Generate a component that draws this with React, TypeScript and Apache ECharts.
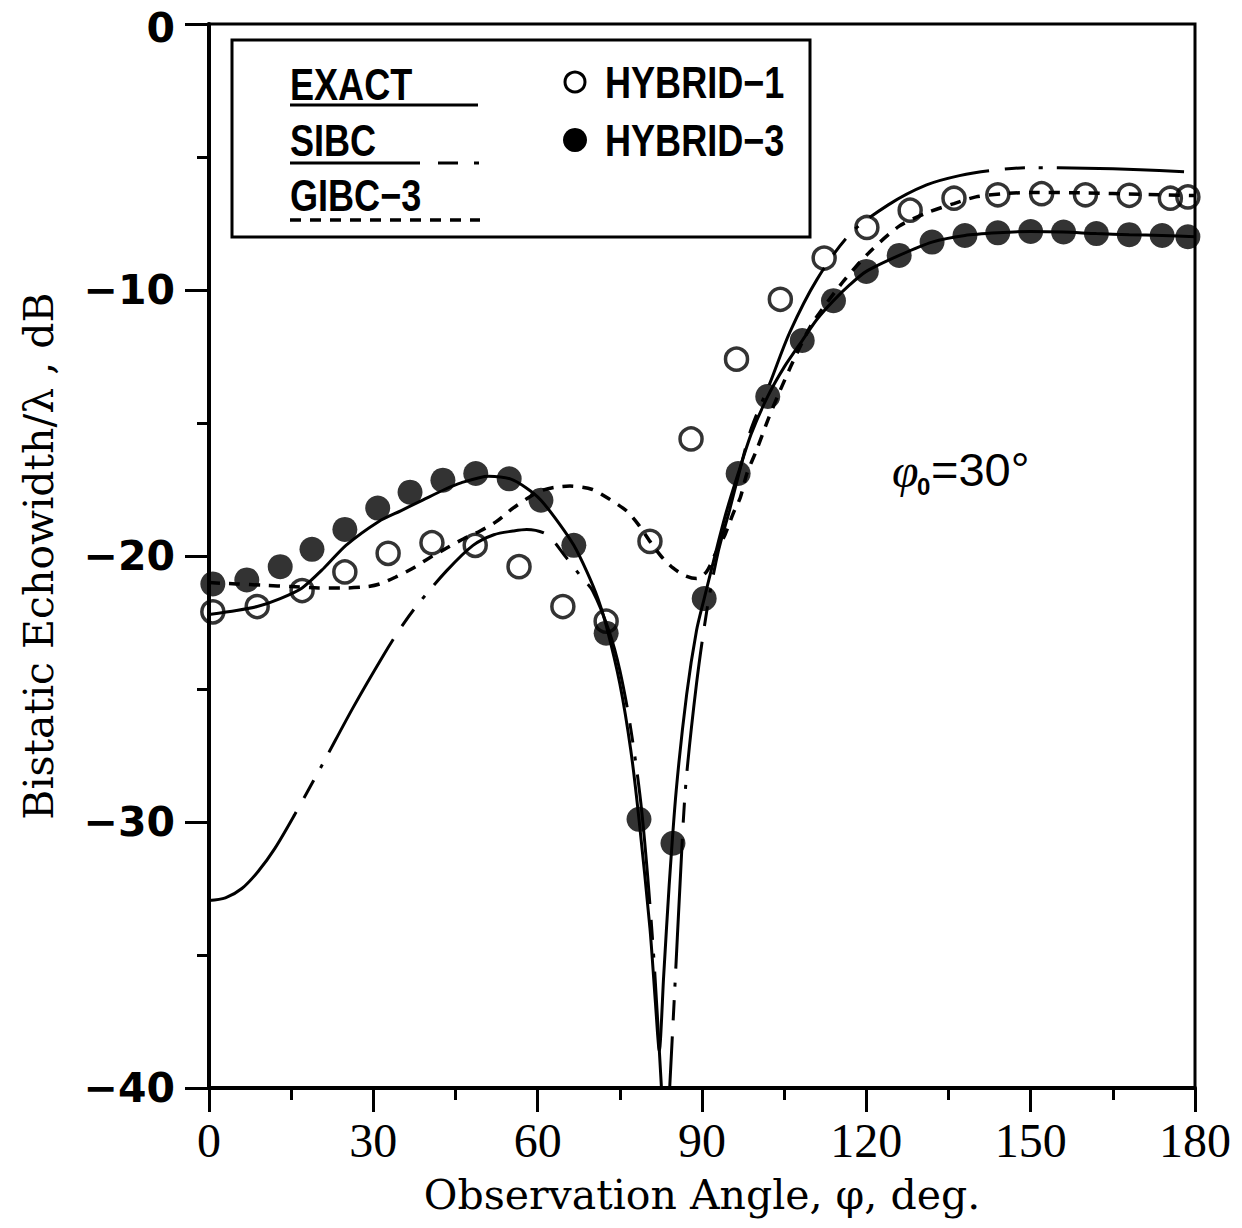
import React, { useEffect, useRef } from "react";
import * as echarts from "echarts";

// [angle deg, dB]
const exactData: number[][] = [
  [0, -22.2], [5, -22.05], [8.8, -21.9], [13, -21.6], [17, -21.2], [21, -20.45], [25, -19.6],
  [31, -18.7], [35, -18.3], [39, -17.9], [43, -17.5], [46, -17.25], [51, -17.0], [55, -17.1],
  [58, -17.45], [60.6, -17.9], [64, -18.8], [66.6, -19.6], [69, -20.6], [71, -21.6], [72.5, -22.6],
  [75, -24.8], [77, -27.3], [78.5, -29.9], [80.5, -34.0], [81.5, -36.8], [82.2, -38.6], [83, -35.8],
  [84, -32.4], [85.3, -28.8], [87.2, -25.2], [89, -22.8], [90.4, -21.6], [92.7, -19.7], [94.5, -18.3],
  [96.6, -16.9], [99, -15.4], [102, -14.0], [105, -12.9], [108.3, -11.9], [111, -11.1], [114, -10.4],
  [117, -9.8], [120, -9.3], [126, -8.7], [132, -8.2], [138, -7.95], [144, -7.85], [150, -7.8],
  [156, -7.82], [162, -7.88], [168, -7.92], [174, -7.95], [180, -8.0],
];

const sibcData: number[][] = [
  [0, -32.95], [3, -32.85], [6, -32.5], [9, -31.85], [12, -31.0], [15.7, -29.7], [20.8, -27.8],
  [26.3, -25.7], [31.8, -23.75], [35, -22.7], [38, -21.85], [43.4, -20.55], [48.2, -19.6],
  [52, -19.2], [55.5, -19.06], [58, -19.0], [61.7, -19.2], [65, -20.0], [68, -20.8], [70, -21.3],
  [73, -22.8], [75, -24.3], [77, -26.5], [79, -29.6], [81, -34.5], [82.6, -40], [83.4, -43],
  [84.1, -40], [85, -36.4], [86, -32.3], [87, -28.7], [89, -24.8], [91, -21.9], [93, -19.8],
  [95, -18.3], [97, -16.7], [99, -15.2], [102.4, -13.5], [106, -11.6], [111, -9.6], [117, -7.9],
  [124, -6.8], [131, -6.05], [137, -5.7], [143, -5.5], [150, -5.4], [160, -5.42], [170, -5.48],
  [178, -5.55],
];

const gibcData: number[][] = [
  [0, -21.0], [5, -21.05], [10, -21.1], [15, -21.15], [20, -21.2], [25, -21.2], [29, -21.15],
  [31.2, -21.05], [34, -20.8], [37.3, -20.45], [40, -20.1], [43.4, -19.7], [46.5, -19.35],
  [49.5, -19.06], [52.5, -18.7], [55.5, -18.2], [58, -17.85], [60.4, -17.56], [63, -17.42],
  [65.9, -17.37], [70, -17.5], [73, -17.85], [76.2, -18.3], [78.5, -18.85], [80.5, -19.45],
  [82.5, -20.0], [84.7, -20.45], [87, -20.75], [89, -20.85], [90.8, -20.6], [92.7, -19.8],
  [94.2, -19.2], [95.7, -18.4], [97, -17.8], [98.2, -16.9], [100, -16.0], [102, -14.9],
  [104, -13.9], [106.6, -12.7], [110, -11.3], [115.7, -9.7], [120.7, -8.55], [126, -7.6],
  [131, -7.1], [136, -6.75], [140, -6.5], [145, -6.38], [150, -6.33], [160, -6.35], [170, -6.4],
  [180, -6.45],
];

const hybrid1Data: number[][] = [
  [0.7, -22.1], [8.8, -21.9], [17, -21.3], [24.8, -20.6], [32.7, -19.9], [40.7, -19.5],
  [48.6, -19.6], [56.6, -20.4], [64.6, -21.9], [72.5, -22.45], [80.5, -19.45], [88, -15.6],
  [96.3, -12.6], [104.3, -10.35], [112.3, -8.8], [120.1, -7.65], [128, -7.0], [136, -6.55],
  [144, -6.42], [152, -6.38], [160, -6.42], [168, -6.44], [175.5, -6.55], [178.7, -6.5],
];

const hybrid3Data: number[][] = [
  [0.7, -21.05], [6.9, -20.9], [13, -20.4], [18.8, -19.75], [24.8, -19.0], [30.8, -18.2],
  [36.7, -17.6], [42.7, -17.15], [48.7, -16.9], [54.8, -17.1], [60.6, -17.9], [66.6, -19.6],
  [72.5, -22.9], [78.5, -29.9], [84.7, -30.8], [90.4, -21.6], [96.6, -16.9], [102, -14.0],
  [108.3, -11.9], [114, -10.4], [120, -9.3], [126, -8.7], [132, -8.2], [138, -7.95], [144, -7.85],
  [150, -7.8], [156, -7.82], [162, -7.88], [168, -7.92], [174, -7.95], [178.7, -8.0],
];

const xRange = [0, 180];
const yRange = [-40, 0];
const xStep = 30;
const yStep = 10;

const legendLines = ["EXACT", "SIBC", "GIBC\u22123"];
const legendMarkers = ["HYBRID\u22121", "HYBRID\u22123"];

const SANS = "'Liberation Sans', Arial, sans-serif";
const SERIF = "'Liberation Serif', 'DejaVu Serif', serif";
const NAME_SERIF = "'DejaVu Serif', 'Liberation Serif', serif";
const TICK_SANS = "'DejaVu Sans', sans-serif";

export default function App() {
  const ref = useRef<HTMLDivElement>(null);

  useEffect(() => {
    if (!ref.current) return;
    const chart = echarts.init(ref.current, null, { renderer: "svg" });

    const lineText = (text: string, x: number, y: number) => ({
      type: "text",
      z: 20,
      x,
      y,
      scaleX: 0.82,
      style: {
        text,
        x: 0,
        y: 0,
        fill: "#000",
        font: `bold 44px ${SANS}`,
        textAlign: "left",
        align: "left",
        textVerticalAlign: "middle",
        verticalAlign: "middle",
      },
    });

    const option: any = {
      animation: false,
      backgroundColor: "#fff",
      grid: {
        left: 209,
        top: 22,
        right: 47,
        bottom: 140,
        show: true,
        borderColor: "#000",
        borderWidth: 3,
        backgroundColor: "transparent",
      },
      xAxis: {
        type: "value",
        min: xRange[0],
        max: xRange[1],
        interval: xStep,
        axisLine: { show: true, onZero: false, lineStyle: { color: "#000", width: 4 } },
        axisTick: { show: true, length: 24, lineStyle: { color: "#000", width: 3 } },
        minorTick: { show: true, splitNumber: 2, length: 12, lineStyle: { color: "#000", width: 3 } },
        splitLine: { show: false },
        axisLabel: { color: "#000", fontFamily: SERIF, fontSize: 48, margin: 28 },
        name: "Observation Angle, \u03c6, deg.",
        nameLocation: "middle",
        nameGap: 86,
        nameTextStyle: { color: "#000", fontFamily: NAME_SERIF, fontSize: 41 },
      },
      yAxis: {
        type: "value",
        min: yRange[0],
        max: yRange[1],
        interval: yStep,
        axisLine: { show: true, onZero: false, lineStyle: { color: "#000", width: 4 } },
        axisTick: { show: true, length: 24, lineStyle: { color: "#000", width: 3 } },
        minorTick: { show: true, splitNumber: 2, length: 12, lineStyle: { color: "#000", width: 3 } },
        splitLine: { show: false },
        axisLabel: {
          color: "#000",
          fontFamily: TICK_SANS,
          fontWeight: "bold",
          fontSize: 41,
          lineHeight: 38,
          margin: 34,
          formatter: (v: number) => (v < 0 ? "\u2212" + Math.abs(v) : "{z|" + v + "}"),
          rich: {
            z: {
              color: "#000",
              fontFamily: TICK_SANS,
              fontWeight: "bold",
              fontSize: 41,
              lineHeight: 38,
              padding: [7, 0, 0, 0],
            },
          },
        },
        name: "Bistatic Echowidth/\u03bb , dB",
        nameLocation: "middle",
        nameGap: 150,
        nameTextStyle: { color: "#000", fontFamily: NAME_SERIF, fontSize: 41 },
      },
      series: [
        {
          name: legendLines[0],
          type: "line",
          data: exactData,
          showSymbol: false,
          smooth: 0.25,
          lineStyle: { color: "#000", width: 3, type: "solid" },
          z: 2,
        },
        {
          name: legendLines[1],
          type: "line",
          data: sibcData,
          showSymbol: false,
          smooth: 0.3,
          lineStyle: { color: "#000", width: 3, type: [130, 16, 20, 14, 4, 14] },
          z: 2,
        },
        {
          name: legendLines[2],
          type: "line",
          data: gibcData,
          showSymbol: false,
          smooth: 0.25,
          lineStyle: { color: "#000", width: 3.5, type: [11, 9] },
          z: 2,
        },
        {
          name: legendMarkers[0],
          type: "scatter",
          data: hybrid1Data,
          symbol: "circle",
          symbolSize: 22,
          itemStyle: { color: "rgba(255,255,255,0)", borderColor: "#000", borderWidth: 3.5 },
          z: 5,
        },
        {
          name: legendMarkers[1],
          type: "scatter",
          data: hybrid3Data,
          symbol: "circle",
          symbolSize: 25,
          itemStyle: { color: "#000" },
          z: 6,
        },
      ],
      graphic: [
        {
          type: "rect",
          z: 15,
          shape: { x: 232, y: 40, width: 578, height: 197 },
          style: { fill: "#fff", stroke: "#000", lineWidth: 3 },
        },
        lineText(legendLines[0], 290, 85),
        { type: "line", z: 20, shape: { x1: 290, y1: 105, x2: 478, y2: 105 }, style: { stroke: "#000", lineWidth: 3 } },
        lineText(legendLines[1], 290, 141),
        {
          type: "line",
          z: 20,
          shape: { x1: 290, y1: 163, x2: 481, y2: 163 },
          style: { stroke: "#000", lineWidth: 3, lineDash: [130, 18, 20, 16, 5, 20] },
        },
        lineText(legendLines[2], 290, 196),
        {
          type: "line",
          z: 20,
          shape: { x1: 290, y1: 220, x2: 480, y2: 220 },
          style: { stroke: "#000", lineWidth: 3.5, lineDash: [11, 9] },
        },
        { type: "circle", z: 20, shape: { cx: 575, cy: 82, r: 10 }, style: { fill: "#fff", stroke: "#000", lineWidth: 3 } },
        lineText(legendMarkers[0], 605, 83),
        { type: "circle", z: 20, shape: { cx: 575, cy: 140, r: 12 }, style: { fill: "#000" } },
        lineText(legendMarkers[1], 605, 141),
        {
          type: "text",
          z: 20,
          style: {
            text: "\u03c6",
            x: 892,
            y: 470,
            fill: "#000",
            font: `italic 48px ${SERIF}`,
            textVerticalAlign: "middle",
            verticalAlign: "middle",
          },
        },
        {
          type: "text",
          z: 20,
          style: {
            text: "0",
            x: 917,
            y: 486,
            fill: "#000",
            font: `bold 24px ${SANS}`,
            textVerticalAlign: "middle",
            verticalAlign: "middle",
          },
        },
        {
          type: "text",
          z: 20,
          style: {
            text: "=30\u00b0",
            x: 931,
            y: 469,
            fill: "#000",
            font: `47px ${SANS}`,
            textVerticalAlign: "middle",
            verticalAlign: "middle",
          },
        },
      ],
    };

    chart.setOption(option);
    return () => chart.dispose();
  }, []);

  return (
    <div
      ref={ref}
      style={{ position: "fixed", left: 0, top: 0, width: 1242, height: 1228, background: "#fff" }}
    />
  );
}
